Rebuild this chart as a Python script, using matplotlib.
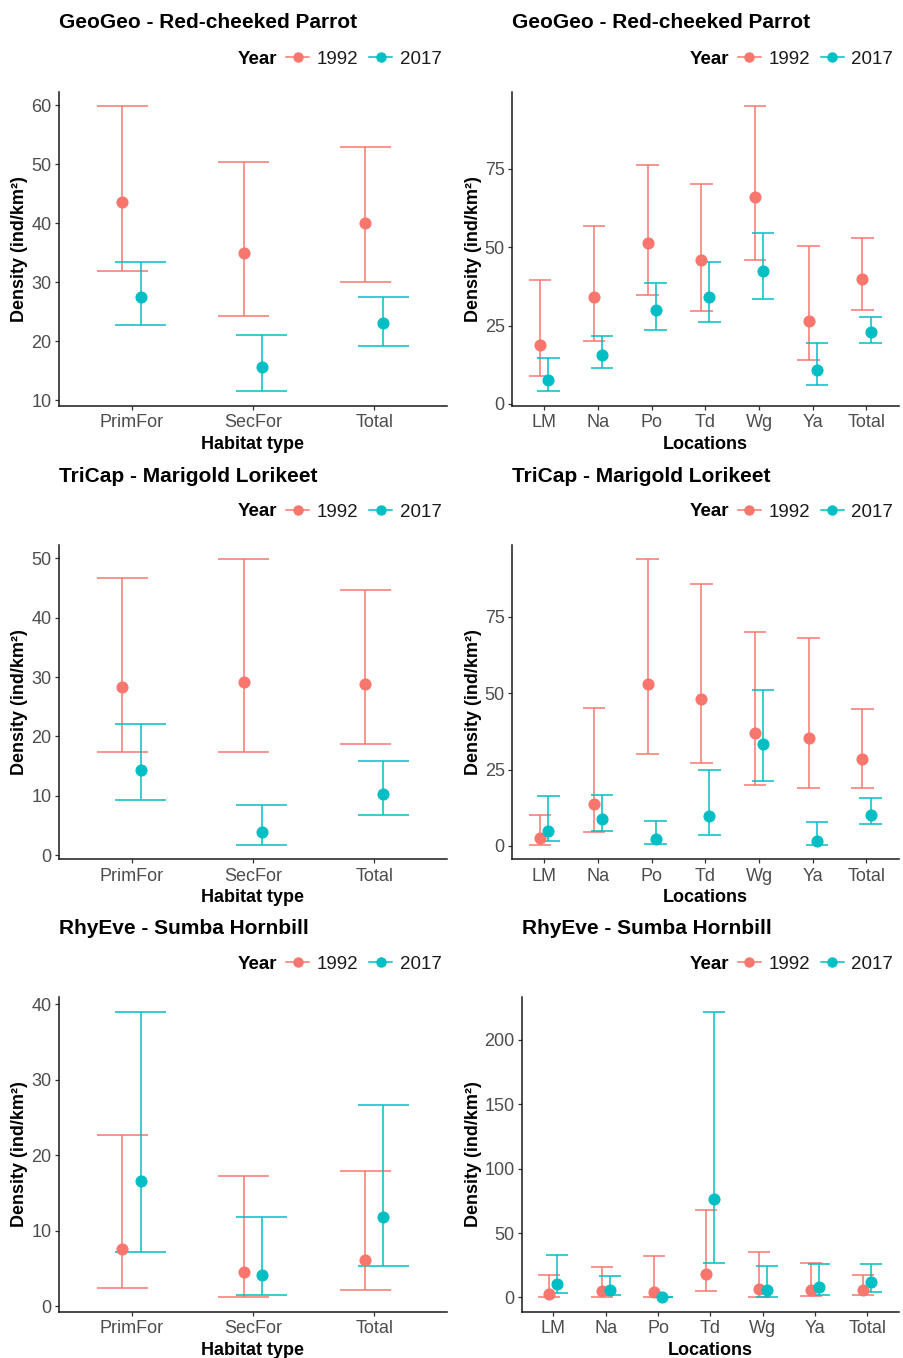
import matplotlib.pyplot as plt
import numpy as np
from matplotlib.lines import Line2D

plt.rcParams["font.family"] = ["Liberation Sans", "DejaVu Sans"]

W, H = 904, 1358

HABITATS = ["PrimFor", "SecFor", "Total"]
LOCATIONS = ["LM", "Na", "Po", "Td", "Wg", "Ya", "Total"]
YEARS = ["1992", "2017"]
COLORS = {"1992": "#F8766D", "2017": "#00BFC4"}
YLABEL = "Density (ind/km²)"

# GeoGeo - Red-cheeked Parrot, by habitat
geo_hab_1992 = [43.6, 35.0, 40.0]
geo_hab_1992_lo = [31.9, 24.3, 30.0]
geo_hab_1992_hi = [59.8, 50.4, 52.9]
geo_hab_2017 = [27.5, 15.6, 23.0]
geo_hab_2017_lo = [22.8, 11.5, 19.2]
geo_hab_2017_hi = [33.4, 21.1, 27.5]

# GeoGeo - Red-cheeked Parrot, by location
geo_loc_1992 = [18.9, 34.1, 51.2, 45.9, 66.1, 26.5, 40.0]
geo_loc_1992_lo = [9.0, 20.2, 34.6, 29.7, 45.8, 14.1, 30.1]
geo_loc_1992_hi = [39.7, 56.9, 76.3, 70.2, 95.0, 50.5, 53.0]
geo_loc_2017 = [7.5, 15.6, 30.1, 34.1, 42.5, 10.8, 22.8]
geo_loc_2017_lo = [4.0, 11.3, 23.6, 26.1, 33.4, 5.9, 19.3]
geo_loc_2017_hi = [14.8, 21.7, 38.5, 45.3, 54.6, 19.3, 27.6]

# TriCap - Marigold Lorikeet, by habitat
tri_hab_1992 = [28.4, 29.2, 28.8]
tri_hab_1992_lo = [17.4, 17.4, 18.7]
tri_hab_1992_hi = [46.6, 49.8, 44.7]
tri_hab_2017 = [14.4, 3.9, 10.4]
tri_hab_2017_lo = [9.4, 1.8, 6.8]
tri_hab_2017_hi = [22.1, 8.5, 15.8]

# TriCap - Marigold Lorikeet, by location
tri_loc_1992 = [2.6, 13.8, 53.0, 48.0, 37.0, 35.3, 28.5]
tri_loc_1992_lo = [0.4, 4.6, 30.0, 27.1, 19.8, 18.9, 18.9]
tri_loc_1992_hi = [10.2, 45.3, 93.8, 85.6, 69.9, 67.9, 44.8]
tri_loc_2017 = [4.9, 8.9, 2.4, 9.8, 33.3, 1.6, 10.2]
tri_loc_2017_lo = [1.5, 4.9, 0.8, 3.7, 21.3, 0.4, 7.1]
tri_loc_2017_hi = [16.3, 16.8, 8.1, 24.7, 50.9, 7.8, 15.7]

# RhyEve - Sumba Hornbill, by habitat
rhy_hab_1992 = [7.6, 4.5, 6.2]
rhy_hab_1992_lo = [2.5, 1.2, 2.2]
rhy_hab_1992_hi = [22.7, 17.3, 17.9]
rhy_hab_2017 = [16.6, 4.2, 11.8]
rhy_hab_2017_lo = [7.2, 1.5, 5.4]
rhy_hab_2017_hi = [39.0, 11.9, 26.7]

# RhyEve - Sumba Hornbill, by location
rhy_loc_1992 = [2.6, 5.2, 3.9, 18.1, 6.7, 5.7, 5.7]
rhy_loc_1992_lo = [0.5, 0.5, 0.0, 4.9, 0.5, 0.8, 1.6]
rhy_loc_1992_hi = [17.3, 23.3, 32.0, 68.2, 35.1, 27.1, 17.3]
rhy_loc_2017 = [10.3, 5.4, 0.0, 76.7, 5.4, 7.8, 11.6]
rhy_loc_2017_lo = [3.6, 1.6, 0.0, 27.1, 0.5, 1.6, 4.4]
rhy_loc_2017_hi = [33.1, 16.3, 0.3, 222.0, 24.3, 25.6, 26.1]

geo_hab_ticks = [10, 20, 30, 40, 50, 60]
loc_ticks_75 = [0, 25, 50, 75]
tri_hab_ticks = [0, 10, 20, 30, 40, 50]
rhy_hab_ticks = [0, 10, 20, 30, 40]
rhy_loc_ticks = [0, 50, 100, 150, 200]

# panel boxes in pixels: left, right, top, bottom
PANELS = [
    ("GeoGeo - Red-cheeked Parrot", HABITATS, "Habitat type", geo_hab_ticks,
     {"1992": (geo_hab_1992, geo_hab_1992_lo, geo_hab_1992_hi),
      "2017": (geo_hab_2017, geo_hab_2017_lo, geo_hab_2017_hi)},
     (58.7, 447.0, 92.0, 405.6), 20.0),
    ("GeoGeo - Red-cheeked Parrot", LOCATIONS, "Locations", loc_ticks_75,
     {"1992": (geo_loc_1992, geo_loc_1992_lo, geo_loc_1992_hi),
      "2017": (geo_loc_2017, geo_loc_2017_lo, geo_loc_2017_hi)},
     (512.0, 898.7, 92.0, 405.6), 473.7),
    ("TriCap - Marigold Lorikeet", HABITATS, "Habitat type", tri_hab_ticks,
     {"1992": (tri_hab_1992, tri_hab_1992_lo, tri_hab_1992_hi),
      "2017": (tri_hab_2017, tri_hab_2017_lo, tri_hab_2017_hi)},
     (58.7, 447.0, 545.0, 859.0), 20.0),
    ("TriCap - Marigold Lorikeet", LOCATIONS, "Locations", loc_ticks_75,
     {"1992": (tri_loc_1992, tri_loc_1992_lo, tri_loc_1992_hi),
      "2017": (tri_loc_2017, tri_loc_2017_lo, tri_loc_2017_hi)},
     (512.0, 898.7, 545.0, 859.0), 473.7),
    ("RhyEve - Sumba Hornbill", HABITATS, "Habitat type", rhy_hab_ticks,
     {"1992": (rhy_hab_1992, rhy_hab_1992_lo, rhy_hab_1992_hi),
      "2017": (rhy_hab_2017, rhy_hab_2017_lo, rhy_hab_2017_hi)},
     (58.7, 447.0, 997.3, 1311.7), 20.0),
    ("RhyEve - Sumba Hornbill", LOCATIONS, "Locations", rhy_loc_ticks,
     {"1992": (rhy_loc_1992, rhy_loc_1992_lo, rhy_loc_1992_hi),
      "2017": (rhy_loc_2017, rhy_loc_2017_lo, rhy_loc_2017_hi)},
     (522.0, 898.7, 997.3, 1311.7), 473.7),
]


def draw_panel(fig, title, cats, xlabel, yticks, series, box, ylab_x):
    left, right, top, bottom = box
    ax = fig.add_axes([left / W, 1 - bottom / H, (right - left) / W, (bottom - top) / H])

    x = np.arange(1, len(cats) + 1)
    dodge = 0.075
    cap = 0.21
    # error bars first, points on top (ggplot layer order)
    for i, year in enumerate(YEARS):
        est, lo, hi = series[year]
        xs = x + (2 * i - 1) * dodge
        c = COLORS[year]
        ax.vlines(xs, lo, hi, color=c, lw=1.1, zorder=2)
        ax.hlines(lo, xs - cap, xs + cap, color=c, lw=1.1, zorder=2)
        ax.hlines(hi, xs - cap, xs + cap, color=c, lw=1.1, zorder=2)
    for i, year in enumerate(YEARS):
        est = series[year][0]
        xs = x + (2 * i - 1) * dodge
        ax.plot(xs, est, "o", ms=7.7, color=COLORS[year], zorder=3)

    ax.set_xlim(0.4, len(cats) + 0.6)
    ax.set_xticks(x)
    ax.set_xticklabels(cats)
    ax.set_yticks(yticks)
    ax.tick_params(labelsize=13, labelcolor="#4D4D4D", color="#333333",
                   length=3.2, width=0.9)
    ax.tick_params(axis="x", pad=3.0)
    ax.tick_params(axis="y", pad=2.0)
    for s in ["top", "right"]:
        ax.spines[s].set_visible(False)
    for s in ["left", "bottom"]:
        ax.spines[s].set_linewidth(1.1)
        ax.spines[s].set_color("#1A1A1A")

    ax.set_xlabel(xlabel, fontsize=13, fontweight="bold", labelpad=3.5)
    fig.text(ylab_x / W, 1 - (top + bottom) / 2 / H, YLABEL, rotation=90,
             ha="center", va="center", fontsize=13, fontweight="bold")

    fig.text(left / W, 1 - (top - 63.5) / H, title, fontsize=15,
             fontweight="bold", ha="left", va="baseline")

    handles = [Line2D([], [], color=COLORS[y], marker="o", ms=6.5, lw=1.1) for y in YEARS]
    leg = ax.legend(handles, YEARS, loc="center right",
                    bbox_to_anchor=((right + 4) / W, 1 - (top - 33) / H),
                    bbox_transform=fig.transFigure, ncol=2, frameon=False,
                    borderpad=0, fontsize=13.5, handlelength=1.25,
                    handletextpad=0.4, columnspacing=0.55)
    for t in leg.get_texts():
        t.set_color("#1A1A1A")
    ax.annotate("Year", xy=(0, 0.5), xycoords=leg, xytext=(-6, 0),
                textcoords="offset points", ha="right", va="center",
                fontsize=13.5, fontweight="bold")
    return ax


fig = plt.figure(figsize=(W / 100, H / 100), dpi=100)
for title, cats, xlabel, yticks, series, box, ylab_x in PANELS:
    draw_panel(fig, title, cats, xlabel, yticks, series, box, ylab_x)

fig.savefig("out.png", dpi=100, facecolor="white")
